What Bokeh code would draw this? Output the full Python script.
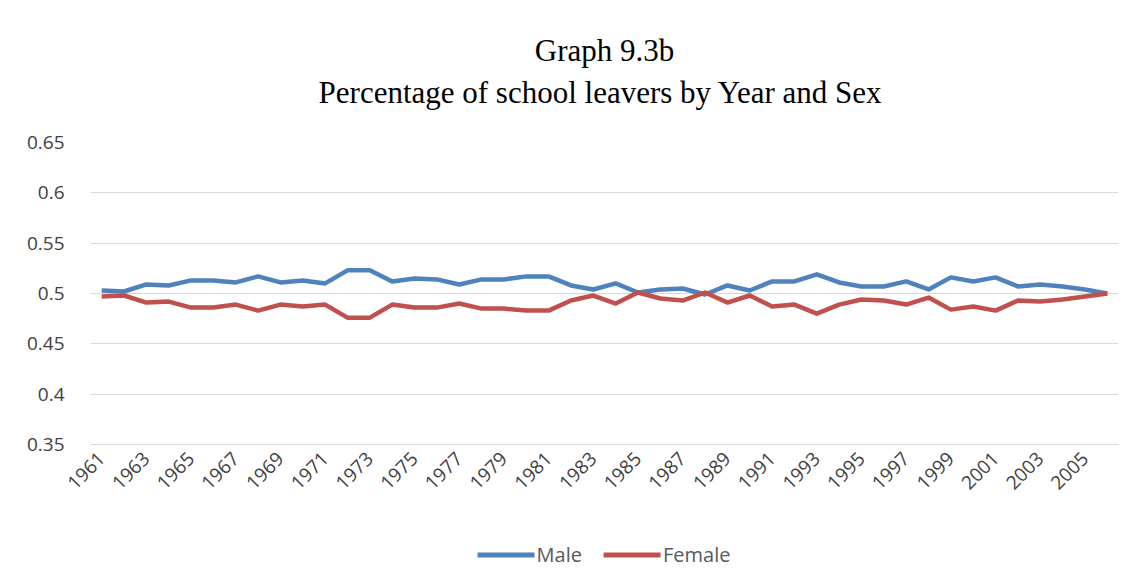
import math
from bokeh.plotting import figure
from bokeh.layouts import column
from bokeh.models import FixedTicker, Legend, LegendItem, Title, Range1d
from bokeh.embed import file_html
from bokeh.resources import INLINE

years = list(range(1961, 2007))
male = [0.503, 0.502, 0.509, 0.508, 0.513, 0.513, 0.511, 0.517, 0.511, 0.513,
        0.510, 0.523, 0.523, 0.512, 0.515, 0.514, 0.509, 0.514, 0.514, 0.517,
        0.517, 0.508, 0.504, 0.510, 0.501, 0.504, 0.505, 0.499, 0.508, 0.503,
        0.512, 0.512, 0.519, 0.511, 0.507, 0.507, 0.512, 0.504, 0.516, 0.512,
        0.516, 0.507, 0.509, 0.507, 0.504, 0.500]
female = [0.497, 0.498, 0.491, 0.492, 0.486, 0.486, 0.489, 0.483, 0.489, 0.487,
          0.489, 0.476, 0.476, 0.489, 0.486, 0.486, 0.490, 0.485, 0.485, 0.483,
          0.483, 0.493, 0.498, 0.490, 0.501, 0.495, 0.493, 0.501, 0.491, 0.498,
          0.487, 0.489, 0.480, 0.489, 0.494, 0.493, 0.489, 0.496, 0.484, 0.487,
          0.483, 0.493, 0.492, 0.494, 0.497, 0.500]
y_ticks = [0.35, 0.4, 0.45, 0.5, 0.55, 0.6, 0.65]
y_labels = ["0.35", "0.4", "0.45", "0.5", "0.55", "0.6", "0.65"]
x_ticks = list(range(1961, 2006, 2))
title_1 = "Graph 9.3b"
title_2 = "Percentage of school leavers  by Year and Sex"

MALE_COLOR = "#4f81bd"
FEMALE_COLOR = "#c0504d"

p = figure(frame_width=1028, frame_height=302,
           x_range=Range1d(1960.5, 2006.5), y_range=Range1d(0.35, 0.65),
           output_backend="svg", toolbar_location=None,
           min_border_left=90, min_border_right=11, min_border_top=142,
           min_border_bottom=85, title=None)
p.outline_line_color = None
p.background_fill_color = "white"
p.border_fill_color = "white"

label_font = "Open Sans"
label_color = "#404040"

p.xaxis.ticker = FixedTicker(ticks=x_ticks)
p.xaxis.major_label_orientation = math.pi / 4
p.xaxis.major_tick_line_color = None
p.xaxis.minor_tick_line_color = None
p.xaxis.axis_line_color = "#d9d9d9"
p.xaxis.major_label_text_font = label_font
p.xaxis.major_label_text_font_size = "19px"
p.xaxis.major_label_text_color = label_color

p.yaxis.ticker = FixedTicker(ticks=y_ticks)
p.yaxis.major_label_overrides = {t: l for t, l in zip(y_ticks, y_labels)}
p.yaxis.major_tick_line_color = None
p.yaxis.minor_tick_line_color = None
p.yaxis.axis_line_color = None
p.yaxis.major_label_text_font = label_font
p.yaxis.major_label_text_font_size = "19px"
p.yaxis.major_label_text_color = label_color
p.yaxis.major_label_standoff = 20

p.xgrid.grid_line_color = None
p.ygrid.grid_line_color = "#d9d9d9"
p.ygrid.grid_line_width = 1

p.line(years, male, line_color=MALE_COLOR, line_width=4.5, line_join="round")
p.line(years, female, line_color=FEMALE_COLOR, line_width=4.5, line_join="round")

t2 = Title(text=title_2, align="center", text_font="Liberation Serif",
           text_font_size="31px", text_font_style="normal", text_color="black",
           standoff=66)
t1 = Title(text=title_1, align="center", text_font="Liberation Serif",
           text_font_size="31px", text_font_style="normal", text_color="black",
           standoff=-56)
p.add_layout(t2, "above")
p.add_layout(t1, "above")

# legend strip below the chart
lg = figure(width=1129, height=50, x_range=Range1d(1960.5, 2006.5),
            y_range=Range1d(10, 11), output_backend="svg",
            toolbar_location=None, x_axis_type=None, y_axis_type=None,
            min_border_left=2, min_border_right=0, min_border_top=0,
            min_border_bottom=0, title=None)
lg.outline_line_color = None
lg.grid.grid_line_color = None
lr_m = lg.line(years, male, line_color=MALE_COLOR, line_width=5, line_cap="round")
lr_f = lg.line(years, female, line_color=FEMALE_COLOR, line_width=5, line_cap="round")
legend = Legend(items=[LegendItem(label="Male", renderers=[lr_m]),
                       LegendItem(label="Female", renderers=[lr_f])],
                orientation="horizontal", location="center",
                label_text_font=label_font, label_text_font_size="20px",
                label_text_color="#595959", glyph_width=57, glyph_height=20,
                spacing=22, label_standoff=2, border_line_color=None,
                background_fill_alpha=0, margin=0, padding=4)
lg.add_layout(legend, "center")

layout = column(p, lg, spacing=0)
open("out.html", "w").write(file_html(layout, INLINE))
